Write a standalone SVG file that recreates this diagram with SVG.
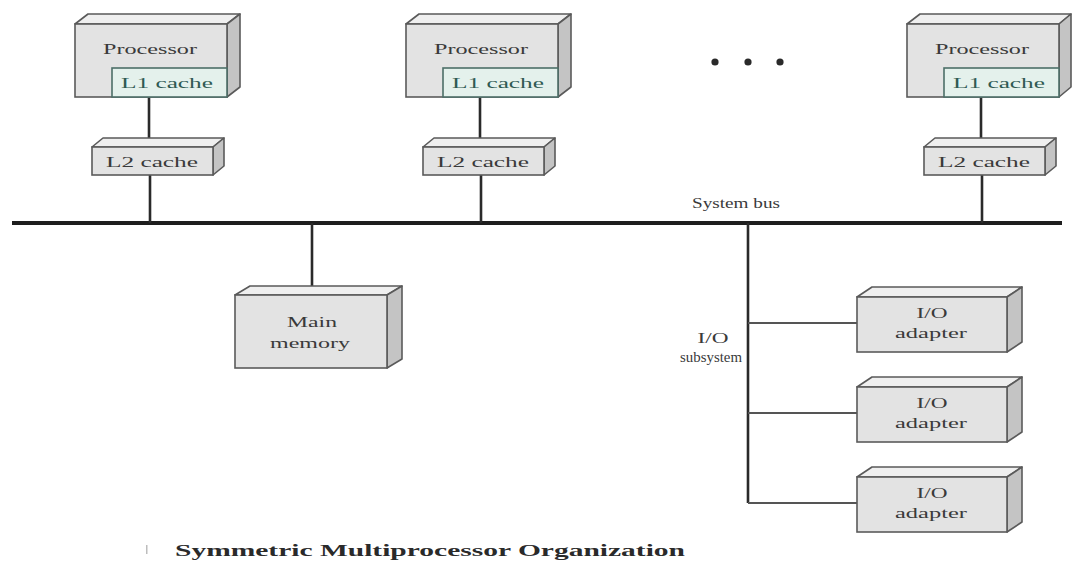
<svg xmlns="http://www.w3.org/2000/svg" width="1073" height="563" viewBox="0 0 1073 563">
  <style>
    .front { fill: #e3e3e3; stroke: #5a5a5a; stroke-width: 1.6; }
    .top { fill: #efefef; stroke: #5a5a5a; stroke-width: 1.6; stroke-linejoin: round; }
    .side { fill: #c4c4c4; stroke: #5a5a5a; stroke-width: 1.6; stroke-linejoin: round; }
    .l1 { fill: #e4f1ec; stroke: #4d6f68; stroke-width: 1.6; }
    .lbl { font-family: "Liberation Serif", "Times New Roman", serif; font-size: 14px; fill: #3a3a3a; text-anchor: middle; }
    .l1t { font-family: "Liberation Serif", "Times New Roman", serif; font-size: 14px; fill: #2f5a53; text-anchor: middle; }
    .bus { stroke: #1e1e1e; stroke-width: 4; fill: none; }
    .wire { stroke: #2a2a2a; stroke-width: 2.6; fill: none; }
    .branch { stroke: #555; stroke-width: 2; fill: none; }
    .cap { font-family: "Liberation Serif", "Times New Roman", serif; font-size: 17px; font-weight: bold; fill: #2a2a2a; }
  </style>

  <!-- connectors: system bus and links -->
  <g id="connectors">
    <line class="bus" x1="12" y1="223" x2="1062" y2="223"/>
    <!-- processor 1 -->
    <line class="wire" x1="149" y1="97" x2="149" y2="140"/>
    <line class="wire" x1="150" y1="175" x2="150" y2="223"/>
    <!-- processor 2 -->
    <line class="wire" x1="480" y1="97" x2="480" y2="140"/>
    <line class="wire" x1="481" y1="175" x2="481" y2="223"/>
    <!-- processor n -->
    <line class="wire" x1="981" y1="97" x2="981" y2="140"/>
    <line class="wire" x1="982" y1="175" x2="982" y2="223"/>
    <!-- main memory -->
    <line class="wire" x1="312" y1="223" x2="312" y2="289"/>
    <!-- I/O subsystem -->
    <line class="wire" x1="748" y1="223" x2="748" y2="503"/>
    <line class="branch" x1="748" y1="323" x2="857" y2="323"/>
    <line class="branch" x1="748" y1="413" x2="857" y2="413"/>
    <line class="branch" x1="748" y1="503" x2="857" y2="503"/>
  </g>

  <!-- processor 1 -->
  <g id="proc1">
    <polygon class="top" points="75,24 88,14 240,14 227,24"/>
    <polygon class="side" points="227,24 240,14 240,87 227,97"/>
    <rect class="front" x="75" y="24" width="152" height="73"/>
    <text class="lbl" x="150" y="54" textLength="94" lengthAdjust="spacingAndGlyphs">Processor</text>
    <rect class="l1" x="112" y="68" width="115" height="29"/>
    <text class="l1t" x="167" y="88" textLength="92" lengthAdjust="spacingAndGlyphs">L1 cache</text>
  </g>
  <g id="l2cache1">
    <polygon class="top" points="92,147 103,138 224,138 213,147"/>
    <polygon class="side" points="213,147 224,138 224,166 213,175"/>
    <rect class="front" x="92" y="147" width="121" height="28"/>
    <text class="lbl" x="152" y="167" textLength="92" lengthAdjust="spacingAndGlyphs">L2 cache</text>
  </g>

  <!-- processor 2 -->
  <g id="proc2">
    <polygon class="top" points="406,24 419,14 571,14 558,24"/>
    <polygon class="side" points="558,24 571,14 571,87 558,97"/>
    <rect class="front" x="406" y="24" width="152" height="73"/>
    <text class="lbl" x="481" y="54" textLength="94" lengthAdjust="spacingAndGlyphs">Processor</text>
    <rect class="l1" x="443" y="68" width="115" height="29"/>
    <text class="l1t" x="498" y="88" textLength="92" lengthAdjust="spacingAndGlyphs">L1 cache</text>
  </g>
  <g id="l2cache2">
    <polygon class="top" points="423,147 434,138 555,138 544,147"/>
    <polygon class="side" points="544,147 555,138 555,166 544,175"/>
    <rect class="front" x="423" y="147" width="121" height="28"/>
    <text class="lbl" x="483" y="167" textLength="92" lengthAdjust="spacingAndGlyphs">L2 cache</text>
  </g>

  <!-- ellipsis between processors -->
  <g id="ellipsis" fill="#2a2a2a">
    <circle cx="715" cy="62" r="3.6"/>
    <circle cx="748" cy="62" r="3.6"/>
    <circle cx="780" cy="62" r="3.6"/>
  </g>

  <!-- processor n -->
  <g id="proc3">
    <polygon class="top" points="907,24 920,14 1071,14 1059,24"/>
    <polygon class="side" points="1059,24 1071,14 1071,87 1059,97"/>
    <rect class="front" x="907" y="24" width="152" height="73"/>
    <text class="lbl" x="982" y="54" textLength="94" lengthAdjust="spacingAndGlyphs">Processor</text>
    <rect class="l1" x="944" y="68" width="115" height="29"/>
    <text class="l1t" x="999" y="88" textLength="92" lengthAdjust="spacingAndGlyphs">L1 cache</text>
  </g>
  <g id="l2cache3">
    <polygon class="top" points="924,147 935,138 1056,138 1045,147"/>
    <polygon class="side" points="1045,147 1056,138 1056,166 1045,175"/>
    <rect class="front" x="924" y="147" width="121" height="28"/>
    <text class="lbl" x="984" y="167" textLength="92" lengthAdjust="spacingAndGlyphs">L2 cache</text>
  </g>

  <!-- bus label -->
  <text id="busLabel" class="lbl" x="736" y="208" textLength="88" lengthAdjust="spacingAndGlyphs">System bus</text>

  <!-- main memory -->
  <g id="mainMemory">
    <polygon class="top" points="235,295 250,286 402,286 387,295"/>
    <polygon class="side" points="387,295 402,286 402,359 387,368"/>
    <rect class="front" x="235" y="295" width="152" height="73"/>
    <text class="lbl" x="312" y="327" textLength="50" lengthAdjust="spacingAndGlyphs">Main</text>
    <text class="lbl" x="310" y="348" textLength="80" lengthAdjust="spacingAndGlyphs">memory</text>
  </g>

  <!-- I/O subsystem label -->
  <g id="ioSubsystem">
    <text class="lbl" x="713" y="343" textLength="31" lengthAdjust="spacingAndGlyphs">I/O</text>
    <text class="lbl" x="711" y="362" textLength="62" lengthAdjust="spacingAndGlyphs">subsystem</text>
  </g>

  <!-- I/O adapters -->
  <g id="ioAdapter1">
    <polygon class="top" points="857,297 872,287 1022,287 1007,297"/>
    <polygon class="side" points="1007,297 1022,287 1022,342 1007,352"/>
    <rect class="front" x="857" y="297" width="150" height="55"/>
    <text class="lbl" x="932" y="318" textLength="31" lengthAdjust="spacingAndGlyphs">I/O</text>
    <text class="lbl" x="931" y="338" textLength="72" lengthAdjust="spacingAndGlyphs">adapter</text>
  </g>
  <g id="ioAdapter2">
    <polygon class="top" points="857,387 872,377 1022,377 1007,387"/>
    <polygon class="side" points="1007,387 1022,377 1022,432 1007,442"/>
    <rect class="front" x="857" y="387" width="150" height="55"/>
    <text class="lbl" x="932" y="408" textLength="31" lengthAdjust="spacingAndGlyphs">I/O</text>
    <text class="lbl" x="931" y="428" textLength="72" lengthAdjust="spacingAndGlyphs">adapter</text>
  </g>
  <g id="ioAdapter3">
    <polygon class="top" points="857,477 872,467 1022,467 1007,477"/>
    <polygon class="side" points="1007,477 1022,467 1022,522 1007,532"/>
    <rect class="front" x="857" y="477" width="150" height="55"/>
    <text class="lbl" x="932" y="498" textLength="31" lengthAdjust="spacingAndGlyphs">I/O</text>
    <text class="lbl" x="931" y="518" textLength="72" lengthAdjust="spacingAndGlyphs">adapter</text>
  </g>

  <!-- caption -->
  <rect x="146" y="545" width="1.5" height="9" fill="#bdbdbd"/>
  <text class="cap" x="175" y="556" textLength="510" lengthAdjust="spacingAndGlyphs">Symmetric Multiprocessor Organization</text>
</svg>
